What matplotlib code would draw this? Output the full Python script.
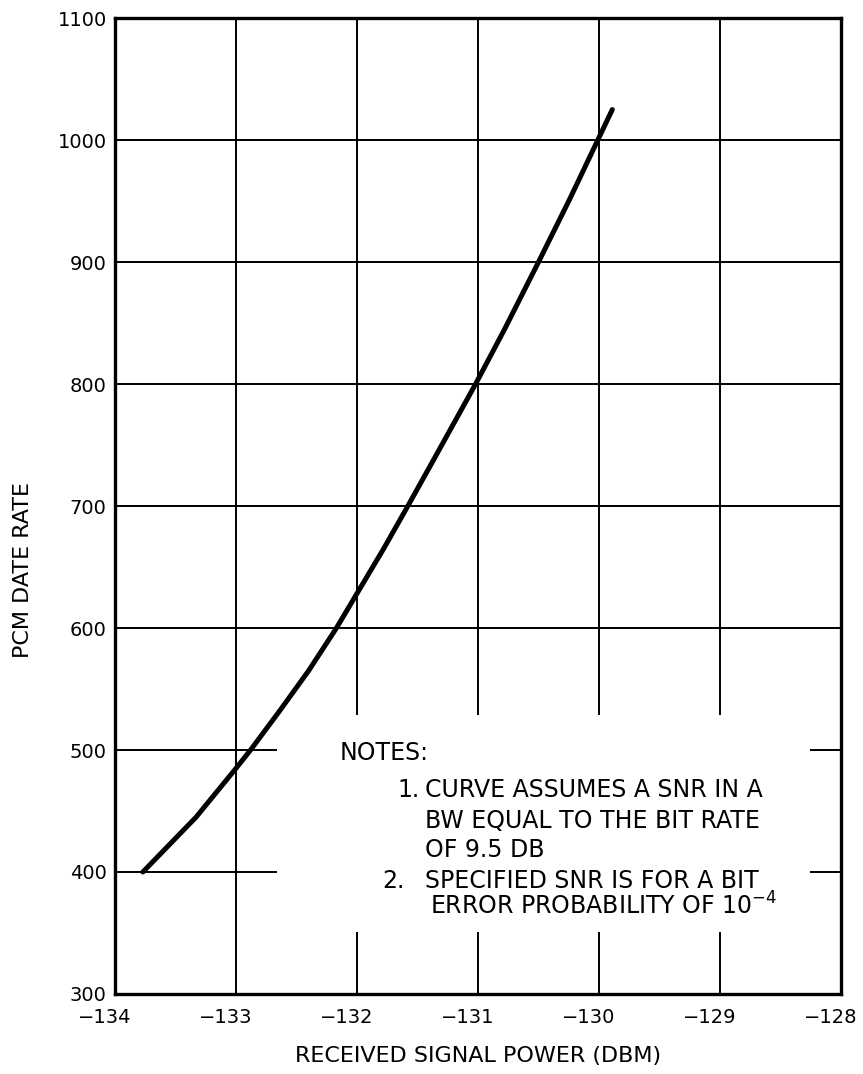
import matplotlib
matplotlib.use("Agg")
import matplotlib.pyplot as plt
import matplotlib.transforms as mtransforms
from matplotlib.patches import Rectangle

# Curve (received power in dBm vs PCM data rate)
power_dbm = [-133.77, -133.33, -133.00, -132.88, -132.64, -132.40, -132.17,
             -131.99, -131.78, -131.58, -131.40, -131.21, -131.02, -130.78,
             -130.50, -130.24, -130.01, -129.89]
pcm_rate = [400, 445, 485, 500, 532, 565, 600,
            630, 665, 700, 732, 766, 800, 845,
            900, 952, 1000, 1025]

x_ticks = [-134, -133, -132, -131, -130, -129, -128]
y_ticks = [300, 400, 500, 600, 700, 800, 900, 1000, 1100]
x_tick_labels = ["\u2212134", "\u2212133", "\u2212132", "\u2212131",
                 "\u2212130", "\u2212129", "\u2212128"]

notes_lines = [
    ("NOTES:", None),
    ("CURVE ASSUMES A SNR IN A", "1."),
    ("BW EQUAL TO THE BIT RATE", None),
    ("OF 9.5 DB", None),
    ("SPECIFIED SNR IS FOR A BIT", "2."),
    (r"ERROR PROBABILITY OF 10$^{-4}$", None),
]


def main() -> None:
    plt.rcParams["font.family"] = ["DejaVu Sans"]
    plt.rcParams["mathtext.fontset"] = "dejavusans"

    fig = plt.figure(figsize=(8.63, 10.74), dpi=100)
    ax = fig.add_axes([0.1333, 0.0745, 0.8412, 0.9087])

    ax.set_xlim(-134, -128)
    ax.set_ylim(300, 1100)
    ax.set_xticks(x_ticks)
    ax.set_xticklabels(x_tick_labels)
    ax.set_yticks(y_ticks)
    ax.tick_params(axis="both", length=0, labelsize=14, colors="black")
    ax.tick_params(axis="x", pad=10)
    ax.tick_params(axis="y", pad=6)

    # x tick labels sit a little left of their grid lines in the original
    shift = mtransforms.ScaledTranslation(-10 / 100, 0, fig.dpi_scale_trans)
    for lab in ax.get_xticklabels():
        lab.set_transform(lab.get_transform() + shift)

    # grid below a white box that holds the notes
    ax.set_axisbelow(True)
    ax.grid(True, color="black", linewidth=1.4)
    ax.add_patch(Rectangle((-132.66, 351), 4.40, 178, facecolor="white",
                           edgecolor="none", zorder=1))

    for s in ax.spines.values():
        s.set_linewidth(2.4)
        s.set_color("black")

    ax.plot(power_dbm, pcm_rate, color="black", linewidth=3.6,
            solid_capstyle="round", solid_joinstyle="round", zorder=3)

    # notes text
    baselines = [491.8, 461.5, 436.1, 412.3, 386.9, 364.8]
    for (txt, num), yb in zip(notes_lines, baselines):
        if txt == "NOTES:":
            ax.text(-132.14, yb, txt, fontsize=17, ha="left", va="baseline", zorder=4)
            continue
        x0 = -131.40 if txt.startswith("ERROR") else -131.44
        ax.text(x0, yb, txt, fontsize=17, ha="left", va="baseline", zorder=4)
        if num is not None:
            nx = -131.67 if num == "1." else -131.79
            ax.text(nx, yb, num, fontsize=17, ha="left", va="baseline", zorder=4)

    ax.set_xlabel("RECEIVED SIGNAL POWER (DBM)", fontsize=16)
    ax.xaxis.set_label_coords(0.5, -0.053)
    ax.set_ylabel("PCM DATE RATE", fontsize=16, va="center")
    ax.yaxis.set_label_coords(-0.127, 0.434)

    fig.savefig("out.png", dpi=100)


if __name__ == "__main__":
    main()
